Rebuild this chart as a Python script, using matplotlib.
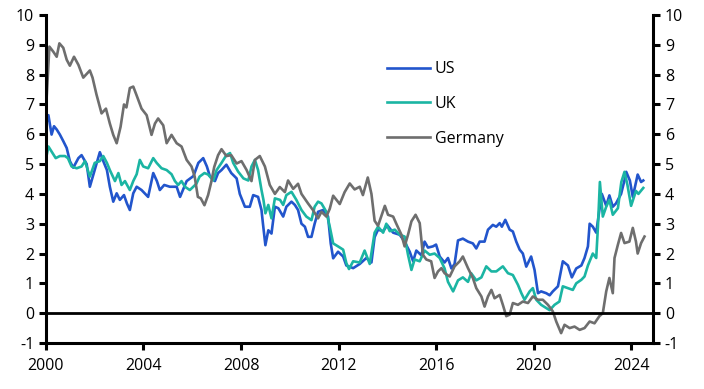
import matplotlib
matplotlib.use('Agg')
import matplotlib.pyplot as plt

plt.rcParams['font.family'] = ['Open Sans', 'DejaVu Sans']
plt.rcParams['axes.unicode_minus'] = False

# Government bond yields (%)
us_years = [2000.03, 2000.1, 2000.23, 2000.33, 2000.44, 2000.57, 2000.71, 2000.85, 2000.98, 2001.12,
            2001.33, 2001.46, 2001.67, 2001.8, 2002.0, 2002.21, 2002.35, 2002.5, 2002.62, 2002.76,
            2002.9, 2003.03, 2003.2, 2003.32, 2003.44, 2003.58, 2003.72, 2003.92, 2004.19, 2004.4,
            2004.55, 2004.67, 2004.85, 2005.08, 2005.36, 2005.5, 2005.77, 2006.05, 2006.25, 2006.45,
            2006.6, 2006.72, 2006.93, 2007.06, 2007.2, 2007.4, 2007.6, 2007.82, 2007.95, 2008.16,
            2008.36, 2008.5, 2008.7, 2008.84, 2008.9, 2009.0, 2009.12, 2009.25, 2009.39, 2009.53,
            2009.73, 2009.86, 2010.07, 2010.21, 2010.34, 2010.48, 2010.62, 2010.75, 2010.89, 2011.02,
            2011.16, 2011.37, 2011.57, 2011.68, 2011.78, 2011.98, 2012.19, 2012.32, 2012.6, 2012.87,
            2013.14, 2013.35, 2013.48, 2013.62, 2013.83, 2014.0, 2014.24, 2014.51, 2014.71, 2014.92,
            2015.06, 2015.19, 2015.4, 2015.53, 2015.67, 2015.87, 2016.0, 2016.15, 2016.35, 2016.49,
            2016.63, 2016.76, 2016.9, 2017.1, 2017.31, 2017.51, 2017.65, 2017.79, 2017.99, 2018.13,
            2018.33, 2018.47, 2018.61, 2018.7, 2018.84, 2019.02, 2019.15, 2019.29, 2019.43, 2019.56,
            2019.7, 2019.9, 2020.04, 2020.18, 2020.31, 2020.52, 2020.66, 2020.79, 2021.0, 2021.2,
            2021.41, 2021.57, 2021.75, 2021.96, 2022.09, 2022.23, 2022.3, 2022.43, 2022.57, 2022.7,
            2022.8, 2022.98, 2023.11, 2023.25, 2023.38, 2023.59, 2023.73, 2023.8, 2023.95, 2024.07,
            2024.27, 2024.41, 2024.5]
us_vals = [6.42, 6.64, 5.99, 6.27, 6.16, 5.99, 5.77, 5.54, 5.1, 4.88,
           5.2, 5.3, 5.0, 4.24, 4.8, 5.4, 5.1, 4.8, 4.24, 3.74,
           4.02, 3.8, 3.96, 3.68, 3.46, 4.02, 4.24, 4.13, 3.9, 4.7,
           4.43, 4.13, 4.3, 4.24, 4.24, 3.9, 4.43, 4.6, 5.04, 5.2,
           4.92, 4.6, 4.43, 4.7, 4.8, 4.98, 4.7, 4.52, 4.0, 3.57,
           3.57, 3.96, 3.9, 3.46, 3.0, 2.28, 2.78, 2.67, 3.57, 3.52,
           3.24, 3.57, 3.74, 3.63, 3.46, 3.0, 2.9, 2.56, 2.56, 3.0,
           3.4, 3.46, 3.24, 2.34, 1.84, 2.06, 1.9, 1.6, 1.51, 1.65,
           1.85, 1.7, 2.55, 2.8, 2.75, 2.95, 2.7, 2.63, 2.4, 2.06,
           1.74, 2.1, 1.94, 2.4, 2.2, 2.24, 2.3, 1.9, 1.7, 1.85,
           1.5, 1.65, 2.44, 2.5, 2.4, 2.34, 2.17, 2.4, 2.4, 2.8,
           2.96, 2.9, 3.02, 2.9, 3.13, 2.8, 2.74, 2.4, 2.13, 2.0,
           1.56, 1.9, 1.45, 0.67, 0.73, 0.67, 0.6, 0.73, 0.9, 1.74,
           1.6, 1.2, 1.5, 1.6, 1.85, 2.24, 3.0, 2.9, 2.7, 3.46,
           4.0, 3.6, 3.95, 3.57, 3.68, 4.0, 4.46, 4.74, 4.45, 3.9,
           4.65, 4.4, 4.45]

uk_years = [2000.03, 2000.1, 2000.23, 2000.4, 2000.57, 2000.78, 2000.9, 2001.05, 2001.26, 2001.46,
            2001.6, 2001.8, 2002.0, 2002.21, 2002.35, 2002.5, 2002.62, 2002.83, 2002.97, 2003.1,
            2003.24, 2003.44, 2003.58, 2003.72, 2003.85, 2003.99, 2004.19, 2004.4, 2004.54, 2004.74,
            2004.95, 2005.15, 2005.29, 2005.42, 2005.56, 2005.7, 2005.9, 2006.04, 2006.17, 2006.3,
            2006.5, 2006.65, 2006.86, 2007.0, 2007.2, 2007.4, 2007.55, 2007.68, 2007.88, 2008.1,
            2008.3, 2008.43, 2008.57, 2008.7, 2008.84, 2008.92, 2009.0, 2009.12, 2009.25, 2009.39,
            2009.6, 2009.73, 2009.86, 2010.07, 2010.27, 2010.48, 2010.68, 2010.89, 2011.02, 2011.16,
            2011.3, 2011.5, 2011.64, 2011.78, 2011.98, 2012.19, 2012.32, 2012.43, 2012.6, 2012.87,
            2013.07, 2013.28, 2013.48, 2013.62, 2013.83, 2013.96, 2014.1, 2014.31, 2014.51, 2014.71,
            2014.85, 2014.99, 2015.12, 2015.33, 2015.53, 2015.74, 2015.94, 2016.15, 2016.35, 2016.49,
            2016.7, 2016.9, 2017.1, 2017.31, 2017.44, 2017.65, 2017.86, 2018.06, 2018.27, 2018.47,
            2018.74, 2018.95, 2019.15, 2019.36, 2019.5, 2019.63, 2019.84, 2019.97, 2020.11, 2020.31,
            2020.52, 2020.66, 2020.86, 2021.06, 2021.2, 2021.41, 2021.61, 2021.75, 2021.96, 2022.09,
            2022.23, 2022.43, 2022.57, 2022.64, 2022.72, 2022.84, 2022.98, 2023.11, 2023.25, 2023.46,
            2023.6, 2023.73, 2023.85, 2024.0, 2024.2, 2024.3, 2024.5]
uk_vals = [5.3, 5.59, 5.42, 5.2, 5.27, 5.27, 5.2, 4.92, 4.86, 4.92,
           5.1, 4.58, 5.04, 5.1, 5.27, 5.04, 4.8, 4.43, 4.7, 4.3,
           4.43, 4.13, 4.43, 4.66, 5.14, 4.92, 4.86, 5.2, 5.04, 4.86,
           4.8, 4.66, 4.43, 4.3, 4.43, 4.24, 4.13, 4.24, 4.34, 4.58,
           4.7, 4.65, 4.45, 4.8, 5.04, 5.3, 5.37, 5.04, 4.75, 4.52,
           4.45, 4.92, 5.14, 4.8, 4.13, 3.8, 3.35, 3.63, 3.18, 3.85,
           3.8, 3.63, 3.96, 4.07, 3.8, 3.46, 3.24, 3.12, 3.57, 3.74,
           3.68, 3.4, 2.9, 2.34, 2.24, 2.13, 1.68, 1.48, 1.74, 1.7,
           2.1, 1.65, 2.7, 2.9, 2.7, 3.0, 2.75, 2.8, 2.63, 2.57,
           1.96, 1.45, 1.8, 1.74, 2.1, 1.96, 2.0, 1.85, 1.5, 1.05,
           0.73, 1.1, 1.2, 1.05, 1.34, 1.1, 1.2, 1.57, 1.4, 1.4,
           1.57, 1.34, 1.28, 0.95, 0.67, 0.45, 0.73, 0.84, 0.45, 0.28,
           0.17, 0.1, 0.28, 0.39, 0.9, 0.84, 0.78, 1.0, 1.12, 1.23,
           1.6, 2.0, 1.85, 2.9, 4.4, 3.24, 3.57, 3.8, 3.3, 3.52,
           4.4, 4.74, 4.3, 3.6, 4.1, 4.0, 4.2]

de_years = [2000.03, 2000.14, 2000.3, 2000.44, 2000.55, 2000.71, 2000.85, 2000.98, 2001.15, 2001.33,
            2001.53, 2001.8, 2001.91, 2002.07, 2002.28, 2002.46, 2002.62, 2002.76, 2002.9, 2003.06,
            2003.2, 2003.3, 2003.44, 2003.58, 2003.72, 2003.92, 2004.13, 2004.33, 2004.47, 2004.6,
            2004.81, 2004.95, 2005.15, 2005.36, 2005.56, 2005.77, 2005.97, 2006.1, 2006.23, 2006.35,
            2006.5, 2006.65, 2006.78, 2006.9, 2007.06, 2007.2, 2007.4, 2007.6, 2007.82, 2008.02,
            2008.23, 2008.43, 2008.57, 2008.77, 2008.98, 2009.18, 2009.39, 2009.59, 2009.8, 2009.93,
            2010.14, 2010.34, 2010.48, 2010.75, 2010.95, 2011.16, 2011.3, 2011.5, 2011.64, 2011.78,
            2012.05, 2012.25, 2012.46, 2012.66, 2012.87, 2013.0, 2013.2, 2013.35, 2013.48, 2013.62,
            2013.76, 2013.9, 2014.03, 2014.24, 2014.37, 2014.58, 2014.71, 2014.85, 2014.99, 2015.16,
            2015.33, 2015.46, 2015.6, 2015.8, 2015.94, 2016.08, 2016.22, 2016.35, 2016.56, 2016.76,
            2016.97, 2017.1, 2017.31, 2017.51, 2017.65, 2017.86, 2017.99, 2018.13, 2018.27, 2018.4,
            2018.61, 2018.74, 2018.88, 2019.02, 2019.15, 2019.36, 2019.56, 2019.77, 2019.97, 2020.18,
            2020.38, 2020.59, 2020.79, 2020.93, 2021.13, 2021.27, 2021.48, 2021.68, 2021.89, 2022.09,
            2022.3, 2022.5, 2022.7, 2022.84, 2022.98, 2023.11, 2023.25, 2023.32, 2023.46, 2023.59,
            2023.73, 2023.93, 2024.07, 2024.2, 2024.27, 2024.41, 2024.55]
de_vals = [7.26, 8.94, 8.77, 8.6, 9.05, 8.9, 8.5, 8.3, 8.6, 8.33,
           7.9, 8.14, 7.9, 7.34, 6.7, 6.86, 6.36, 5.98, 5.7, 6.25,
           7.0, 6.9, 7.55, 7.6, 7.3, 6.86, 6.64, 5.98, 6.36, 6.53,
           6.3, 5.7, 5.98, 5.7, 5.59, 5.14, 4.92, 4.58, 3.9, 3.85,
           3.62, 3.96, 4.4, 4.9, 5.3, 5.5, 5.27, 5.3, 5.02, 5.1,
           4.8, 4.43, 5.14, 5.27, 4.92, 4.3, 4.0, 4.23, 4.06, 4.45,
           4.17, 4.34, 4.0, 3.68, 3.46, 3.18, 3.4, 3.24, 3.5, 3.94,
           3.66, 4.06, 4.35, 4.15, 4.24, 3.96, 4.55, 4.0, 3.1, 2.93,
           3.27, 3.6, 3.3, 3.24, 3.0, 2.63, 2.24, 2.63, 3.08, 3.3,
           3.02, 1.96, 1.8, 1.74, 1.18, 1.4, 1.51, 1.34, 1.23, 1.57,
           1.74, 1.9, 1.51, 1.18, 0.84, 0.56, 0.22, 0.56, 0.78, 0.5,
           0.61, 0.28, -0.1, -0.05, 0.34, 0.28, 0.39, 0.34, 0.56, 0.45,
           0.45, 0.28, 0.06, -0.28, -0.67, -0.39, -0.5, -0.45, -0.56, -0.5,
           -0.28, -0.34, -0.1, 0.0, 0.73, 1.18, 0.67, 1.85, 2.3, 2.69,
           2.35, 2.4, 2.86, 2.4, 2.0, 2.35, 2.57]

x_ticks = [2000, 2004, 2008, 2012, 2016, 2020, 2024]
y_ticks = list(range(-1, 11))

fig = plt.figure(figsize=(7.04, 3.89), dpi=100)
ax = fig.add_axes([0.0653, 0.1183, 0.8623, 0.8431])

ax.plot(us_years, us_vals, color='#2255CC', lw=1.9, label='US')
ax.plot(uk_years, uk_vals, color='#1BB5A3', lw=1.9, label='UK')
ax.plot(de_years, de_vals, color='#6E6E6E', lw=1.9, label='Germany')
ax.axhline(0, color='black', lw=2)

ax.set_xlim(2000, 2024.9)
ax.set_ylim(-1, 10)
ax.set_xticks(x_ticks)
ax.set_yticks(y_ticks)

ax2 = ax.twinx()
ax2.set_ylim(-1, 10)
ax2.set_yticks(y_ticks)

for a in (ax, ax2):
    a.spines['top'].set_visible(False)
    for s in a.spines.values():
        s.set_linewidth(2.2)
    a.tick_params(direction='out', length=5, width=2.2, labelsize=11.5, colors='black')
ax.spines['right'].set_visible(False)
ax2.spines['left'].set_visible(False)
ax2.spines['bottom'].set_visible(False)
ax.tick_params(axis='x', pad=6)

ax.legend(loc='upper left', bbox_to_anchor=(0.538, 0.863), bbox_transform=fig.transFigure,
          frameon=False, fontsize=11.5, handlelength=2.7, handletextpad=0.3,
          labelspacing=1.17, borderpad=0)

fig.savefig('out.png', dpi=100)
